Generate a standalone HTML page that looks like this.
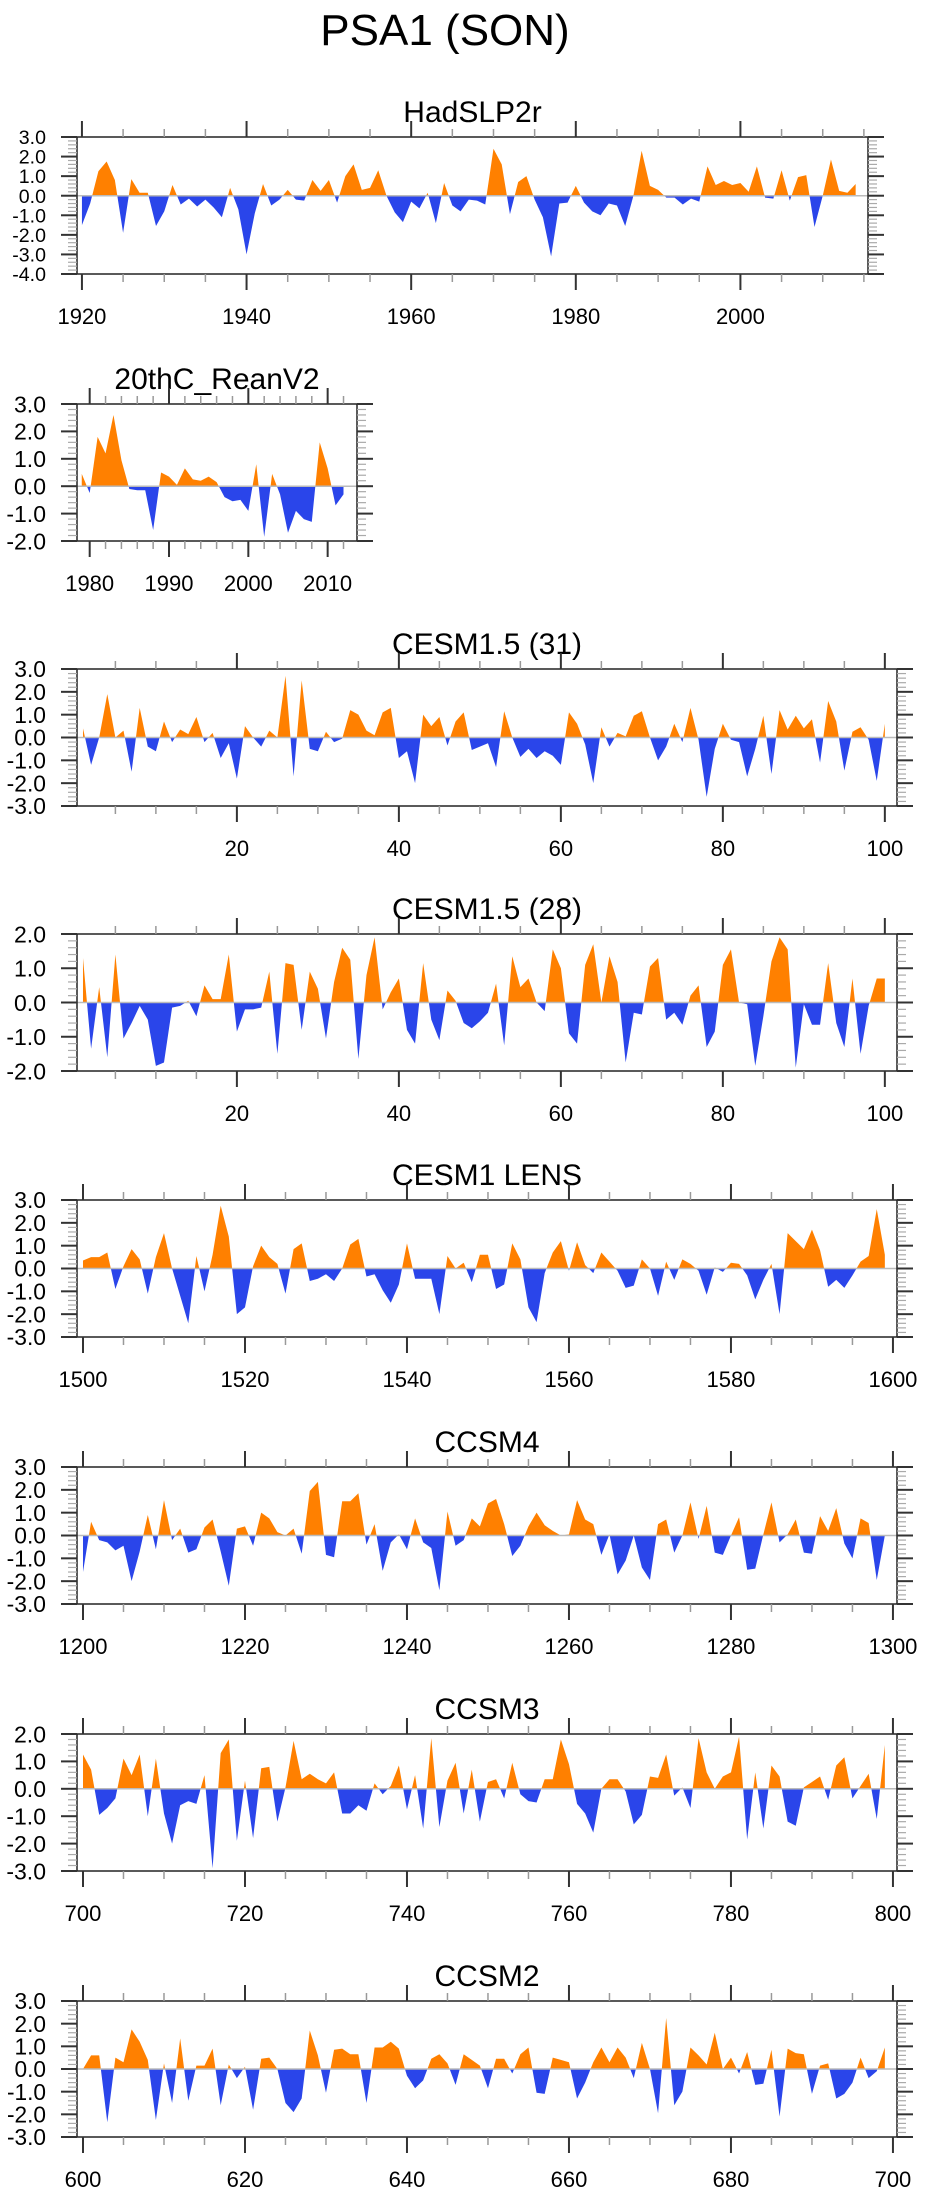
<!DOCTYPE html>
<html><head><meta charset="utf-8"><title>PSA1 (SON)</title>
<style>
html,body{margin:0;padding:0;background:#fff;}
svg{display:block;font-family:"Liberation Sans",Arial,sans-serif;}
</style></head>
<body>
<svg id="chart" width="925" height="2191" viewBox="0 0 925 2191" xmlns="http://www.w3.org/2000/svg">
<text x="445" y="45" font-size="44" text-anchor="middle" fill="#000">PSA1 (SON)</text>
</svg>
<script>
// ---- data arrays ----
const hadYears0 = 1920;
const hadValues = [-1.5,-0.4,1.25,1.75,0.8,-1.9,0.85,0.15,0.15,-1.55,-0.8,0.55,-0.45,-0.15,-0.55,-0.2,-0.6,-1.1,0.4,-0.7,-3.0,-0.9,0.6,-0.5,-0.2,0.3,-0.2,-0.25,0.8,0.25,0.8,-0.35,1.0,1.6,0.3,0.4,1.3,0.0,-0.85,-1.35,-0.3,-0.65,0.15,-1.4,0.65,-0.5,-0.8,-0.2,-0.25,-0.45,2.4,1.6,-0.95,0.7,1.0,-0.2,-1.1,-3.1,-0.4,-0.35,0.5,-0.35,-0.8,-1.0,-0.4,-0.5,-1.55,0.0,2.3,0.5,0.3,-0.1,-0.1,-0.45,-0.15,-0.3,1.5,0.55,0.75,0.55,0.65,0.2,1.5,-0.1,-0.15,1.3,-0.25,0.95,1.05,-1.6,0.0,1.85,0.25,0.15,0.6];
const reanYears0 = 1979;
const reanValues = [0.45,-0.25,1.8,1.2,2.6,0.95,-0.1,-0.15,-0.15,-1.6,0.5,0.35,0.05,0.65,0.25,0.2,0.35,0.15,-0.4,-0.55,-0.5,-0.9,0.8,-1.85,0.45,-0.3,-1.7,-0.9,-1.2,-1.3,1.6,0.65,-0.7,-0.3];
const cesm31Values = [0.4,-1.2,0.0,1.9,0.0,0.3,-1.5,1.3,-0.4,-0.6,0.7,-0.2,0.35,0.15,0.9,-0.2,0.2,-0.9,-0.25,-1.8,0.5,0.0,-0.4,0.3,0.0,2.7,-1.7,2.5,-0.5,-0.6,0.25,-0.2,-0.05,1.2,1.0,0.3,0.1,1.1,1.3,-0.9,-0.6,-2.0,1.0,0.5,0.9,-0.35,0.7,1.1,-0.55,-0.4,-0.25,-1.3,1.15,0.0,-0.85,-0.5,-0.9,-0.6,-0.8,-1.2,1.1,0.6,-0.3,-2.0,0.45,-0.4,0.2,0.05,0.95,1.15,0.0,-1.0,-0.4,0.6,-0.2,1.3,-0.1,-2.6,-0.5,0.6,-0.1,-0.2,-1.7,-0.5,0.95,-1.6,1.2,0.35,0.95,0.4,0.8,-1.1,1.6,0.7,-1.45,0.25,0.45,-0.1,-1.9,0.6];
const cesm28Values = [1.3,-1.35,0.45,-1.6,1.4,-1.05,-0.6,-0.1,-0.5,-1.85,-1.75,-0.15,-0.1,0.05,-0.4,0.5,0.1,0.1,1.4,-0.85,-0.2,-0.2,-0.15,0.9,-1.5,1.15,1.1,-0.8,0.9,0.4,-1.05,0.6,1.6,1.25,-1.65,0.8,1.9,-0.2,0.3,0.7,-0.8,-1.2,1.15,-0.5,-1.1,0.35,0.05,-0.6,-0.75,-0.55,-0.3,0.55,-1.25,1.35,0.45,0.7,0.0,-0.25,1.55,1.0,-0.9,-1.2,1.1,1.7,0.0,1.35,0.6,-1.75,-0.3,-0.35,1.05,1.3,-0.5,-0.3,-0.65,0.2,0.5,-1.3,-0.85,1.1,1.55,0.0,-0.05,-1.85,-0.4,1.2,1.9,1.55,-1.9,-0.05,-0.65,-0.65,1.15,-0.6,-1.3,0.7,-1.5,-0.1,0.7,0.7];
const lensYears0 = 1500;
const lensValues = [0.35,0.5,0.5,0.7,-0.9,0.1,0.85,0.4,-1.1,0.5,1.55,0.0,-1.2,-2.4,0.55,-1.0,0.6,2.75,1.4,-2.0,-1.7,0.1,1.0,0.5,0.2,-1.1,0.85,1.1,-0.55,-0.45,-0.25,-0.55,0.0,1.05,1.3,-0.35,-0.25,-0.95,-1.5,-0.7,1.1,-0.45,-0.45,-0.45,-2.0,0.55,0.0,0.25,-0.6,0.6,0.6,-0.9,-0.7,1.1,0.4,-1.7,-2.35,-0.2,0.7,1.2,-0.1,1.15,0.15,-0.2,0.7,0.3,-0.1,-0.85,-0.75,0.4,0.0,-1.2,0.3,-0.5,0.4,0.2,-0.1,-1.15,0.05,-0.15,0.25,0.2,-0.3,-1.35,-0.5,0.2,-2.0,1.55,1.2,0.85,1.7,0.8,-0.8,-0.5,-0.85,-0.3,0.3,0.55,2.6,0.6];
const ccsm4Years0 = 1200;
const ccsm4Values = [-1.6,0.6,-0.2,-0.3,-0.65,-0.45,-2.0,-0.7,0.9,-0.6,1.55,-0.2,0.3,-0.75,-0.6,0.35,0.7,-0.7,-2.2,0.3,0.4,-0.45,1.0,0.75,0.15,0.0,0.3,-0.8,1.95,2.35,-0.85,-0.95,1.5,1.5,1.85,-0.4,0.5,-1.55,-0.3,0.05,-0.6,0.75,-0.3,-0.55,-2.4,1.05,-0.45,-0.2,0.75,0.4,1.4,1.6,0.5,-0.9,-0.45,0.4,1.0,0.45,0.2,0.0,0.05,1.55,0.7,0.5,-0.85,0.05,-1.7,-1.1,0.0,-1.4,-1.95,0.5,0.7,-0.75,0.0,1.45,-0.15,1.3,-0.75,-0.85,0.0,0.8,-1.5,-1.45,0.05,1.45,-0.3,0.05,0.7,-0.75,-0.8,0.85,0.2,1.2,-0.35,-1.0,0.75,0.55,-1.95,0.0];
const ccsm3Years0 = 700;
const ccsm3Values = [1.25,0.7,-0.95,-0.7,-0.35,1.1,0.5,1.25,-1.0,1.1,-0.9,-2.0,-0.6,-0.45,-0.55,0.5,-2.9,1.3,1.8,-1.9,0.3,-1.8,0.75,0.8,-1.2,0.05,1.75,0.35,0.55,0.35,0.2,0.6,-0.9,-0.9,-0.6,-0.8,0.2,-0.2,0.1,0.85,-0.75,0.5,-1.45,1.85,-1.4,0.3,0.95,-0.9,0.7,-1.2,0.25,0.35,-0.35,0.95,-0.2,-0.45,-0.5,0.35,0.35,1.8,0.9,-0.55,-0.9,-1.6,0.0,0.35,0.35,-0.1,-1.3,-0.95,0.45,0.4,1.25,-0.25,0.05,-0.7,1.85,0.6,0.0,0.45,0.6,1.9,-1.85,0.6,-1.45,0.85,0.45,-1.2,-1.35,0.05,0.25,0.45,-0.4,0.85,1.15,-0.35,0.1,0.55,-1.1,1.6];
const ccsm2Years0 = 600;
const ccsm2Values = [0.0,0.6,0.6,-2.35,0.5,0.3,1.75,1.2,0.4,-2.25,0.25,-1.5,1.35,-1.4,0.15,0.15,0.9,-1.6,0.2,-0.4,0.1,-1.8,0.45,0.5,0.0,-1.5,-1.9,-1.3,1.7,0.6,-1.05,0.85,0.9,0.65,0.65,-1.5,0.95,0.95,1.2,0.9,-0.3,-0.85,-0.5,0.45,0.65,0.25,-0.7,0.65,0.4,0.15,-0.85,0.45,0.45,-0.2,0.65,0.95,-1.05,-1.1,0.5,0.4,0.3,-1.3,-0.6,0.3,0.95,0.3,0.95,0.5,-0.4,1.15,0.0,-1.95,2.25,-1.6,-1.0,0.95,0.6,0.2,1.6,0.0,0.5,-0.2,0.75,-0.7,-0.65,0.85,-2.1,0.9,0.7,0.65,-1.1,0.15,0.25,-1.3,-1.1,-0.6,0.5,-0.4,-0.1,0.95];
const hadXTicks = [1920,1940,1960,1980,2000];
const reanXTicks = [1980,1990,2000,2010];
const cesmXTicks = [20,40,60,80,100];

// ---- layout ----
const panels = [
 {name:'hadslp2r', title:'HadSLP2r', x0:hadYears0, vals:hadValues, L:77, R:868, T:137, B:274, xmin:1919.4, xmax:2015.5, ymin:-4, ymax:3, ticks:hadXTicks, major:20, minor:5},
 {name:'20thc-reanv2', title:'20thC_ReanV2', x0:reanYears0, vals:reanValues, L:77, R:357, T:404, B:541, xmin:1978.4, xmax:2013.7, ymin:-2, ymax:3, ticks:reanXTicks, major:10, minor:2},
 {name:'cesm15-31', title:'CESM1.5 (31)', x0:1, vals:cesm31Values, L:77, R:897, T:669, B:806, xmin:0.26, xmax:101.5, ymin:-3, ymax:3, ticks:cesmXTicks, major:20, minor:5},
 {name:'cesm15-28', title:'CESM1.5 (28)', x0:1, vals:cesm28Values, L:77, R:897, T:934, B:1071, xmin:0.26, xmax:101.5, ymin:-2, ymax:2, ticks:cesmXTicks, major:20, minor:5},
 {name:'cesm1-lens', title:'CESM1 LENS', x0:lensYears0, vals:lensValues, L:77, R:897, T:1200, B:1337, xmin:1499.26, xmax:1600.5, ymin:-3, ymax:3, ticks:[1500,1520,1540,1560,1580,1600], major:20, minor:5},
 {name:'ccsm4', title:'CCSM4', x0:ccsm4Years0, vals:ccsm4Values, L:77, R:897, T:1467, B:1604, xmin:1199.26, xmax:1300.5, ymin:-3, ymax:3, ticks:[1200,1220,1240,1260,1280,1300], major:20, minor:5},
 {name:'ccsm3', title:'CCSM3', x0:ccsm3Years0, vals:ccsm3Values, L:77, R:897, T:1734, B:1871, xmin:699.26, xmax:800.5, ymin:-3, ymax:2, ticks:[700,720,740,760,780,800], major:20, minor:5},
 {name:'ccsm2', title:'CCSM2', x0:ccsm2Years0, vals:ccsm2Values, L:77, R:897, T:2001, B:2137, xmin:599.26, xmax:700.5, ymin:-3, ymax:3, ticks:[600,620,640,660,680,700], major:20, minor:5}
];
const NS='http://www.w3.org/2000/svg';
const svg=document.getElementById('chart');
function mk(tag,attrs,parent){const e=document.createElementNS(NS,tag);for(const k in attrs)e.setAttribute(k,attrs[k]);(parent||svg).appendChild(e);return e;}

panels.forEach((p,pi)=>{
  const g=mk('g',{});
  
  
  const xs=v=>p.L+(v-p.xmin)/(p.xmax-p.xmin)*(p.R-p.L);
  const ys=v=>p.B-(v-p.ymin)/(p.ymax-p.ymin)*(p.B-p.T);
  const t=mk('text',{x:(p.L+p.R)/2,y:p.T-15,'font-size':30,'text-anchor':'middle',fill:'#000'},g);
  t.textContent=p.title;
  
  
  const y0=ys(0);
  let pts=`${xs(p.x0)},${y0} `;
  p.vals.forEach((v,i)=>{pts+=`${xs(p.x0+i)},${ys(v)} `;});
  pts+=`${xs(p.x0+p.vals.length-1)},${y0}`;
  const cpA=mk('clipPath',{id:'ca'+pi},g); mk('rect',{x:p.L,y:p.T,width:p.R-p.L,height:y0-p.T},cpA);
  const cpB=mk('clipPath',{id:'cb'+pi},g); mk('rect',{x:p.L,y:y0,width:p.R-p.L,height:p.B-y0},cpB);
  const pos=mk('polygon',{points:pts,fill:'#ff8000','clip-path':`url(#ca${pi})`},g);
  
  
  const neg=mk('polygon',{points:pts,fill:'#2a45ea','clip-path':`url(#cb${pi})`},g);
  
  
  const zl=mk('line',{x1:p.L,x2:p.R,y1:y0,y2:y0,stroke:'#bbb','stroke-width':1.5},g);
  
  
  const fr=mk('rect',{x:p.L,y:p.T,width:p.R-p.L,height:p.B-p.T,fill:'none',stroke:'#222','stroke-width':1.5},g);
  
  
  const first=Math.ceil(p.xmin/p.minor)*p.minor;
  for(let v=first; v<=p.xmax+1e-9; v+=p.minor){
    const x=xs(v), isMaj=Math.abs(v/p.major-Math.round(v/p.major))<1e-6;
    const len=isMaj?16:8, col=isMaj?'#333':'#999';
    mk('line',{x1:x,x2:x,y1:p.T,y2:p.T-len,stroke:col,'stroke-width':isMaj?2:1.5},g);
    mk('line',{x1:x,x2:x,y1:p.B,y2:p.B+len,stroke:col,'stroke-width':isMaj?2:1.5},g);
  }
  p.ticks.forEach(v=>{
    const lt=mk('text',{x:xs(v),y:p.B+50,'font-size':22,'text-anchor':'middle',fill:'#000'},g);
    lt.textContent=String(v);
    
    
  });
  const spacing=(p.B-p.T)/(p.ymax-p.ymin);
  const fs=Math.min(23,spacing*1.0);
  for(let k=Math.round(p.ymin*5); k<=Math.round(p.ymax*5); k++){
    const v=k/5, y=ys(v), isMaj=(k%5===0);
    const len=isMaj?16:9, col=isMaj?'#333':'#aaa';
    mk('line',{x1:p.L,x2:p.L-len,y1:y,y2:y,stroke:col,'stroke-width':isMaj?2:1.2},g);
    mk('line',{x1:p.R,x2:p.R+len,y1:y,y2:y,stroke:col,'stroke-width':isMaj?2:1.2},g);
    if(isMaj){
      const yt=mk('text',{x:p.L-31,y:y+fs*0.36,'font-size':fs,'text-anchor':'end',fill:'#000'},g);
      yt.textContent=v.toFixed(1);
      
      
    }
  }
});
</script>
</body></html>
